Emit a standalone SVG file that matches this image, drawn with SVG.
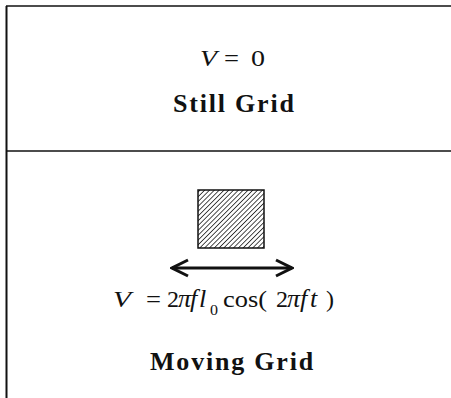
<svg xmlns="http://www.w3.org/2000/svg" width="451" height="398" viewBox="0 0 451 398">
<style>
.ln{stroke:#111;stroke-width:1.6;fill:none}
.eq{font-family:"Liberation Serif",serif;font-size:24px;fill:#111}
.it{font-style:italic}
.big{font-size:26px}
.sub{font-size:15px}
.lbl{font-family:"Liberation Serif",serif;font-size:26px;font-weight:bold;fill:#111;letter-spacing:1.8px}
</style>
<defs>
<pattern id="hatch" patternUnits="userSpaceOnUse" width="3.4" height="3.4" patternTransform="rotate(45)">
<line x1="0" y1="0" x2="0" y2="3.4" stroke="#111" stroke-width="1.5"/>
</pattern>
<marker id="chev" viewBox="0 0 20 20" refX="18" refY="10" markerWidth="20" markerHeight="20" markerUnits="userSpaceOnUse" orient="auto-start-reverse">
<path d="M2,2 L18,10 L2,18" fill="none" stroke="#111" stroke-width="3"/>
</marker>
</defs>
<g id="frame">
<line class="ln" x1="6" y1="6" x2="451" y2="6"/>
<line class="ln" x1="6.5" y1="6" x2="6.5" y2="398" style="stroke-width:2"/>
<line class="ln" x1="6" y1="151" x2="451" y2="151"/>
</g>
<g id="still">
<text class="eq it" x="200" y="66" textLength="17" lengthAdjust="spacingAndGlyphs">V</text>
<text class="eq" x="224" y="66" textLength="15" lengthAdjust="spacingAndGlyphs">=</text>
<text class="eq" x="251" y="66" textLength="14" lengthAdjust="spacingAndGlyphs">0</text>
<text class="lbl" x="173" y="112">Still Grid</text>
</g>
<g id="moving">
<rect x="198" y="190" width="66" height="58" fill="url(#hatch)" stroke="#111" stroke-width="1.5"/>
<text class="eq it" x="113" y="307" textLength="18" lengthAdjust="spacingAndGlyphs">V</text>
<text class="eq" x="146" y="307" textLength="15" lengthAdjust="spacingAndGlyphs">=</text>
<text class="eq" x="167" y="307" textLength="12" lengthAdjust="spacingAndGlyphs">2</text>
<text class="eq it big" y="307"><tspan x="178">π</tspan><tspan x="190">f</tspan><tspan x="199">l</tspan></text>
<text class="eq sub" x="210" y="315" textLength="8" lengthAdjust="spacingAndGlyphs">0</text>
<text class="eq" x="223" y="307" textLength="44" lengthAdjust="spacingAndGlyphs">cos(</text>
<text class="eq" x="276" y="307" textLength="12" lengthAdjust="spacingAndGlyphs">2</text>
<text class="eq it big" y="307"><tspan x="287">π</tspan><tspan x="300">f</tspan><tspan x="310">t</tspan></text>
<text class="eq" x="326" y="307" textLength="8" lengthAdjust="spacingAndGlyphs">)</text>
<text class="lbl" x="150" y="370">Moving Grid</text>
</g>
<g id="connectors">
<line x1="172" y1="268" x2="292" y2="268" stroke="#111" stroke-width="3" marker-start="url(#chev)" marker-end="url(#chev)"/>
</g>
</svg>
